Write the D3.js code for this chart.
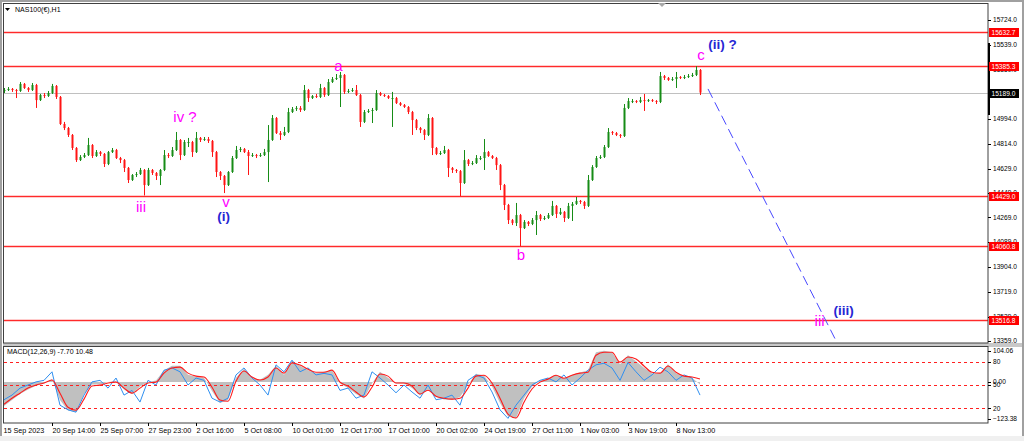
<!DOCTYPE html>
<html><head><meta charset="utf-8">
<script src="https://cdn.jsdelivr.net/npm/d3@7"></script>
<style>body{margin:0;background:#fff;overflow:hidden}svg{display:block;font-family:"Liberation Sans",Arial,sans-serif}</style>
</head><body><svg id="c" width="1024" height="441"></svg>
<script>
// ---------- DATA ----------
const symbolTitle = "NAS100(€),H1";
const macdTitle = "MACD(12,26,9) -7.70 10.48";
const firstOpen = 15201;
const closes = [15208,15216,15208,15201,15253,15223,15208,15245,15134,15171,
 15164,15186,15238,15157,14958,14928,14877,14781,14692,14715,
 14729,14803,14722,14751,14737,14663,14751,14766,14707,14692,
 14634,14545,14582,14589,14619,14508,14619,14597,14575,14619,
 14729,14722,14766,14840,14729,14825,14825,14751,14855,14840,
 14847,14833,14751,14604,14575,14508,14604,14707,14766,14774,
 14751,14722,14729,14722,14729,14751,14840,15002,14891,14877,
 14899,15046,15068,15076,15061,15208,15149,15164,15157,15223,
 15171,15267,15289,15297,15319,15194,15201,15208,15171,14973,
 15046,15054,15061,15186,15171,15164,15149,15149,15112,15098,
 15083,15046,14987,14928,14913,14877,15002,14781,14737,14744,
 14766,14634,14619,14611,14523,14692,14663,14670,14707,14707,
 14751,14722,14707,14655,14508,14361,14250,14228,14287,14191,
 14236,14221,14250,14287,14258,14265,14287,14354,14295,14310,
 14265,14354,14369,14391,14383,14354,14545,14641,14707,14715,
 14788,14899,14891,14877,14869,15076,15127,15127,15120,15134,
 15127,15134,15127,15120,15311,15297,15282,15289,15304,15297,
 15304,15311,15319,15356,15189];
const highs = [15223,15230,15223,15216,15267,15260,15230,15260,15253,15179,
 15186,15201,15253,15245,15164,14973,14936,14884,14788,14729,
 14744,14855,14810,14766,14759,14744,14759,14781,14774,14715,
 14700,14641,14589,14604,14634,14626,14634,14626,14604,14626,
 14766,14744,14788,14899,14847,14840,14855,14833,14899,14862,
 14862,14862,14840,14759,14611,14582,14611,14722,14796,14788,
 14781,14766,14744,14737,14744,14774,14950,15024,15009,14906,
 14936,15076,15083,15090,15090,15245,15216,15171,15179,15253,
 15230,15289,15304,15326,15341,15326,15216,15223,15245,15179,
 15061,15068,15076,15208,15194,15179,15171,15194,15157,15120,
 15105,15090,15054,14995,14936,14921,15031,15009,14788,14759,
 14796,14774,14641,14626,14619,14766,14700,14685,14729,14722,
 14847,14759,14729,14715,14663,14516,14369,14258,14376,14295,
 14250,14243,14265,14317,14295,14280,14302,14391,14361,14339,
 14317,14376,14383,14420,14398,14391,14582,14655,14722,14729,
 14803,14928,14906,14899,14884,15105,15149,15142,15134,15157,
 15179,15142,15142,15134,15341,15319,15304,15304,15341,15311,
 15319,15326,15334,15384,15363];
const lows = [15186,15201,15194,15149,15194,15216,15194,15201,15076,15127,
 15149,15157,15179,15142,14950,14913,14862,14766,14678,14685,
 14707,14722,14707,14715,14722,14641,14655,14744,14700,14670,
 14604,14523,14538,14567,14582,14431,14501,14582,14545,14508,
 14611,14707,14715,14759,14692,14722,14788,14715,14744,14825,
 14833,14818,14715,14567,14545,14449,14501,14597,14700,14751,
 14744,14582,14715,14707,14715,14722,14530,14833,14884,14840,
 14869,14891,15039,15054,15046,15054,15120,15142,15149,15149,
 15157,15164,15260,15282,15083,15179,15186,15194,15164,14936,
 14965,15039,14965,15054,15164,15157,15142,14936,15105,15090,
 15076,15031,14877,14913,14891,14840,14869,14729,14729,14729,
 14737,14567,14597,14597,14427,14516,14648,14655,14663,14692,
 14619,14715,14700,14619,14471,14324,14221,14213,14206,14058,
 14184,14206,14213,14140,14243,14250,14258,14280,14265,14287,
 14236,14258,14243,14361,14369,14332,14346,14538,14634,14700,
 14707,14781,14877,14869,14855,14862,15068,15112,15112,15112,
 15054,15120,15120,15105,15112,15282,15275,15275,15223,15289,
 15289,15297,15304,15311,15171];
const timeLabels = ["15 Sep 2023","20 Sep 14:00","25 Sep 07:00","27 Sep 23:00","2 Oct 16:00",
 "5 Oct 08:00","10 Oct 01:00","12 Oct 17:00","17 Oct 10:00","20 Oct 02:00","24 Oct 19:00",
 "27 Oct 11:00","1 Nov 03:00","3 Nov 19:00","8 Nov 13:00"];
const priceTicks = [15724,15539,15359,15174,14994,14814,14629,14449,14269,14089,13904,13719,13539,13359];
const levelLines = [15632.7,15385.3,14429.0,14060.8,13516.8];
const lastPrice = 15189.0;
const projectionBars = [176,208.3];
const projectionPrices = [15216,13344];
const waveText   = ["iii","iv ?","v","(i)","a","b","c","(ii) ?","iii","(iii)"];
const waveBar    = [34.25,45.25,55.5,54.9,83.6,129.25,174.25,179.6,203.9,209.9];
const wavePrice  = [14313,14973,14346,14243,15348,13956,15429,15507,13469,13554];
const waveDegree = ["minor","minor","minor","minute","minor","minor","minor","minute","minor","minute"];
const macdHist = [-80,-60,-40,-25,-12,-5,10,-60,-95,-100,
 -40,-8,-8,0,3,-25,-40,-15,0,5,
 40,55,55,25,18,15,-30,-70,-60,15,
 45,12,8,25,55,25,72,55,40,30,
 35,40,-5,-20,-40,-55,-5,35,15,-5,
 -5,-20,-45,-25,-50,-58,-60,-50,-10,28,
 22,-15,-70,-115,-122,-55,-15,5,12,25,
 12,25,32,40,100,105,100,60,90,70,
 48,30,30,60,30,20,15,-7.70];
const macdSignal = [-74,-54,-37,-20,-10,-3,7,-37,-84,-94,
 -57,-13,-10,-3,0,-20,-37,-20,-3,0,
 30,47,50,30,20,17,-17,-60,-64,3,
 37,17,7,17,47,30,64,57,43,33,
 33,40,0,-13,-33,-50,-17,27,20,-3,
 -3,-13,-40,-27,-47,-54,-57,-54,-20,20,
 23,-3,-54,-107,-120,-67,-23,0,10,23,
 13,23,30,33,90,100,100,67,84,77,
 54,33,30,54,33,20,17,10.48];
const oscLine = [31,37,46,50,54,56,67,24,18,15,
 37,54,56,46,59,37,43,28,56,50,
 69,72,67,50,59,56,33,28,33,63,
 72,59,50,37,76,67,82,67,72,63,
 65,63,43,46,33,37,67,59,50,40,
 50,41,33,50,31,33,37,24,56,63,
 59,41,18,7,24,37,50,56,59,54,
 63,50,59,69,76,78,72,56,79,67,
 56,63,73,67,56,63,59,37];
const oscLevels = [80,50,20];
const macdAxisTicks = [104.06,0,-123.38];

// ---------- CHART ----------
const W=1024,H=441;
const svg=d3.select("#c");
svg.append("rect").attr("width",W).attr("height",H).attr("fill","#fff");
svg.append("rect").attr("x",0).attr("y",436).attr("width",W).attr("height",5).attr("fill","#f0f0f0");

const x=d3.scaleLinear().domain([0,246]).range([4,988]);
const y=d3.scaleLinear().domain([13359,15724]).range([341,20]);
const ym=d3.scaleLinear().domain([-123.38,104.06]).range([419,351]);
const yo=d3.scaleLinear().domain([0,100]).range([423.8,346.2]);

const defs=svg.append("defs");
defs.append("clipPath").attr("id","cm").append("rect").attr("x",4).attr("y",4).attr("width",984).attr("height",339);
defs.append("clipPath").attr("id","cd").append("rect").attr("x",4).attr("y",347).attr("width",984).attr("height",76);

// frame
svg.append("rect").attr("x",0).attr("y",0).attr("width",W).attr("height",2).attr("fill","#a0a0a0");
svg.append("rect").attr("x",0).attr("y",0).attr("width",2).attr("height",436).attr("fill","#a0a0a0");
svg.append("rect").attr("x",1022).attr("y",0).attr("width",2).attr("height",436).attr("fill","#a0a0a0");
svg.append("rect").attr("x",3).attr("y",343).attr("width",1019).attr("height",4).attr("fill","#c8c8c8");

// main panel
const gm=svg.append("g").attr("clip-path","url(#cm)");
// level lines
gm.selectAll("line.halo").data(levelLines).join("line")
 .attr("x1",4).attr("x2",988).attr("y1",d=>Math.round(y(d))+0.5).attr("y2",d=>Math.round(y(d))+0.5)
 .attr("stroke","#ffbcbc").attr("stroke-width",2.6);
gm.selectAll("line.lvl").data(levelLines).join("line")
 .attr("x1",4).attr("x2",988).attr("y1",d=>Math.round(y(d))+0.5).attr("y2",d=>Math.round(y(d))+0.5)
 .attr("stroke","#ff2a2a").attr("stroke-width",1);
gm.append("line").attr("x1",4).attr("x2",988).attr("y1",Math.round(y(lastPrice))+0.5).attr("y2",Math.round(y(lastPrice))+0.5)
 .attr("stroke","#c0c0c0").attr("stroke-width",1);

// candles
const bars=closes.map((c,i)=>{const o=i?closes[i-1]:firstOpen;return {i,o,c,h:Math.max(highs[i],o,c),l:Math.min(lows[i],o,c)};});
const col=d=>d.c>=d.o?"#168c16":"#ff1414";
gm.selectAll("line.wick").data(bars).join("line")
 .attr("x1",d=>x(d.i)+0.5).attr("x2",d=>x(d.i)+0.5)
 .attr("y1",d=>y(d.h)).attr("y2",d=>y(d.l)).attr("stroke",col).attr("stroke-width",1);
gm.selectAll("rect.body").data(bars).join("rect")
 .attr("x",d=>x(d.i)-0.5).attr("width",2)
 .attr("y",d=>y(Math.max(d.o,d.c))).attr("height",d=>Math.max(1,Math.abs(y(d.o)-y(d.c))))
 .attr("fill",col);

// projection
gm.append("line").attr("x1",x(projectionBars[0])).attr("y1",y(projectionPrices[0]))
 .attr("x2",x(projectionBars[1])).attr("y2",y(projectionPrices[1]))
 .attr("stroke","#4848ff").attr("stroke-width",1).attr("stroke-dasharray","10,5");

// wave labels
const waveStyle={minor:{fill:"#ff00ff",weight:"normal",size:15},minute:{fill:"#2626d4",weight:"bold",size:13.5}};
waveText.forEach((t,k)=>{
  const s=waveStyle[waveDegree[k]];
  svg.append("text").attr("x",x(waveBar[k])).attr("y",y(wavePrice[k])).attr("text-anchor","middle")
   .attr("fill",s.fill).attr("font-weight",s.weight).attr("font-size",s.size).text(t);
});

// borders
svg.append("rect").attr("x",3.5).attr("y",3.5).attr("width",984.5).attr("height",339.5).attr("fill","none").attr("stroke","#404040");

// title
svg.append("path").attr("d","M5,8 L10,8 L7.5,11 Z").attr("fill","#000");
svg.append("text").attr("x",15).attr("y",12).attr("font-size",7).attr("fill","#000").text(symbolTitle);
svg.append("path").attr("d","M658,3 L666,3 L662,7 Z").attr("fill","#a8a8a8");

// price axis
const pa=svg.append("g");
pa.selectAll("line").data(priceTicks).join("line").attr("x1",988).attr("x2",991)
 .attr("y1",d=>Math.round(y(d))+0.5).attr("y2",d=>Math.round(y(d))+0.5).attr("stroke","#000");
pa.selectAll("text").data(priceTicks).join("text").attr("x",993).attr("y",d=>y(d)+2.3)
 .attr("font-size",6.6).attr("fill","#000").text(d=>d3.format(".1f")(d));
svg.append("rect").attr("x",988).attr("y",43).attr("width",2).attr("height",72).attr("fill","#000");
const boxes=levelLines.map(v=>({v,bg:"#ff0000"})).concat([{v:lastPrice,bg:"#000"}]);
boxes.forEach(b=>{
  const yy=Math.round(y(b.v));
  svg.append("rect").attr("x",989).attr("y",yy-4).attr("width",30).attr("height",9).attr("fill",b.bg);
  svg.append("text").attr("x",991.5).attr("y",yy+2.8).attr("font-size",6.6).attr("fill","#fff").text(d3.format(".1f")(b.v));
});

// MACD panel
const gd=svg.append("g").attr("clip-path","url(#cd)");
const idx=k=>x(2*k);
gd.append("path").datum(macdHist).attr("d",d3.area().x((d,k)=>idx(k)).y0(ym(0)).y1(d=>ym(d))).attr("fill","#c0c0c0");
gd.selectAll("line.lv").data(oscLevels).join("line").attr("x1",4).attr("x2",988)
 .attr("y1",d=>Math.round(yo(d))+0.5).attr("y2",d=>Math.round(yo(d))+0.5)
 .attr("stroke","#ff2020").attr("stroke-dasharray","3,3").attr("stroke-width",1);
gd.append("path").datum(oscLine).attr("d",d3.line().x((d,k)=>idx(k)).y(d=>yo(d))).attr("fill","none").attr("stroke","#2f8ff0").attr("stroke-width",1);
gd.append("path").datum(macdSignal).attr("d",d3.line().x((d,k)=>idx(k)).y(d=>ym(d)).curve(d3.curveMonotoneX)).attr("fill","none").attr("stroke","#ff1a1a").attr("stroke-width",1.1);
svg.append("rect").attr("x",3.5).attr("y",346.5).attr("width",984.5).attr("height",76.5).attr("fill","none").attr("stroke","#404040");
svg.append("text").attr("x",7).attr("y",354).attr("font-size",7).attr("fill","#000").text(macdTitle);

// MACD axis
macdAxisTicks.forEach(v=>{
  svg.append("line").attr("x1",988).attr("x2",991).attr("y1",Math.round(ym(v))+0.5).attr("y2",Math.round(ym(v))+0.5).attr("stroke","#000");
  svg.append("text").attr("x",993).attr("y",ym(v)+2.3).attr("font-size",6.6).attr("fill","#000").text(d3.format(".2f")(v));
});
oscLevels.forEach(v=>{
  svg.append("line").attr("x1",988).attr("x2",991).attr("y1",Math.round(yo(v))+0.5).attr("y2",Math.round(yo(v))+0.5).attr("stroke","#000");
  svg.append("text").attr("x",993).attr("y",yo(v)+2.3).attr("font-size",6.6).attr("fill","#000").text(v);
});

// time axis
timeLabels.forEach((t,k)=>{
  const xx=Math.round(x(12*k))+0.5;
  if(k>0) svg.append("line").attr("x1",xx).attr("x2",xx).attr("y1",423).attr("y2",426).attr("stroke","#000");
  svg.append("text").attr("x",xx+(k?0:-1)).attr("y",433).attr("font-size",7.2).attr("fill","#000").text(t);
});
</script></body></html>
